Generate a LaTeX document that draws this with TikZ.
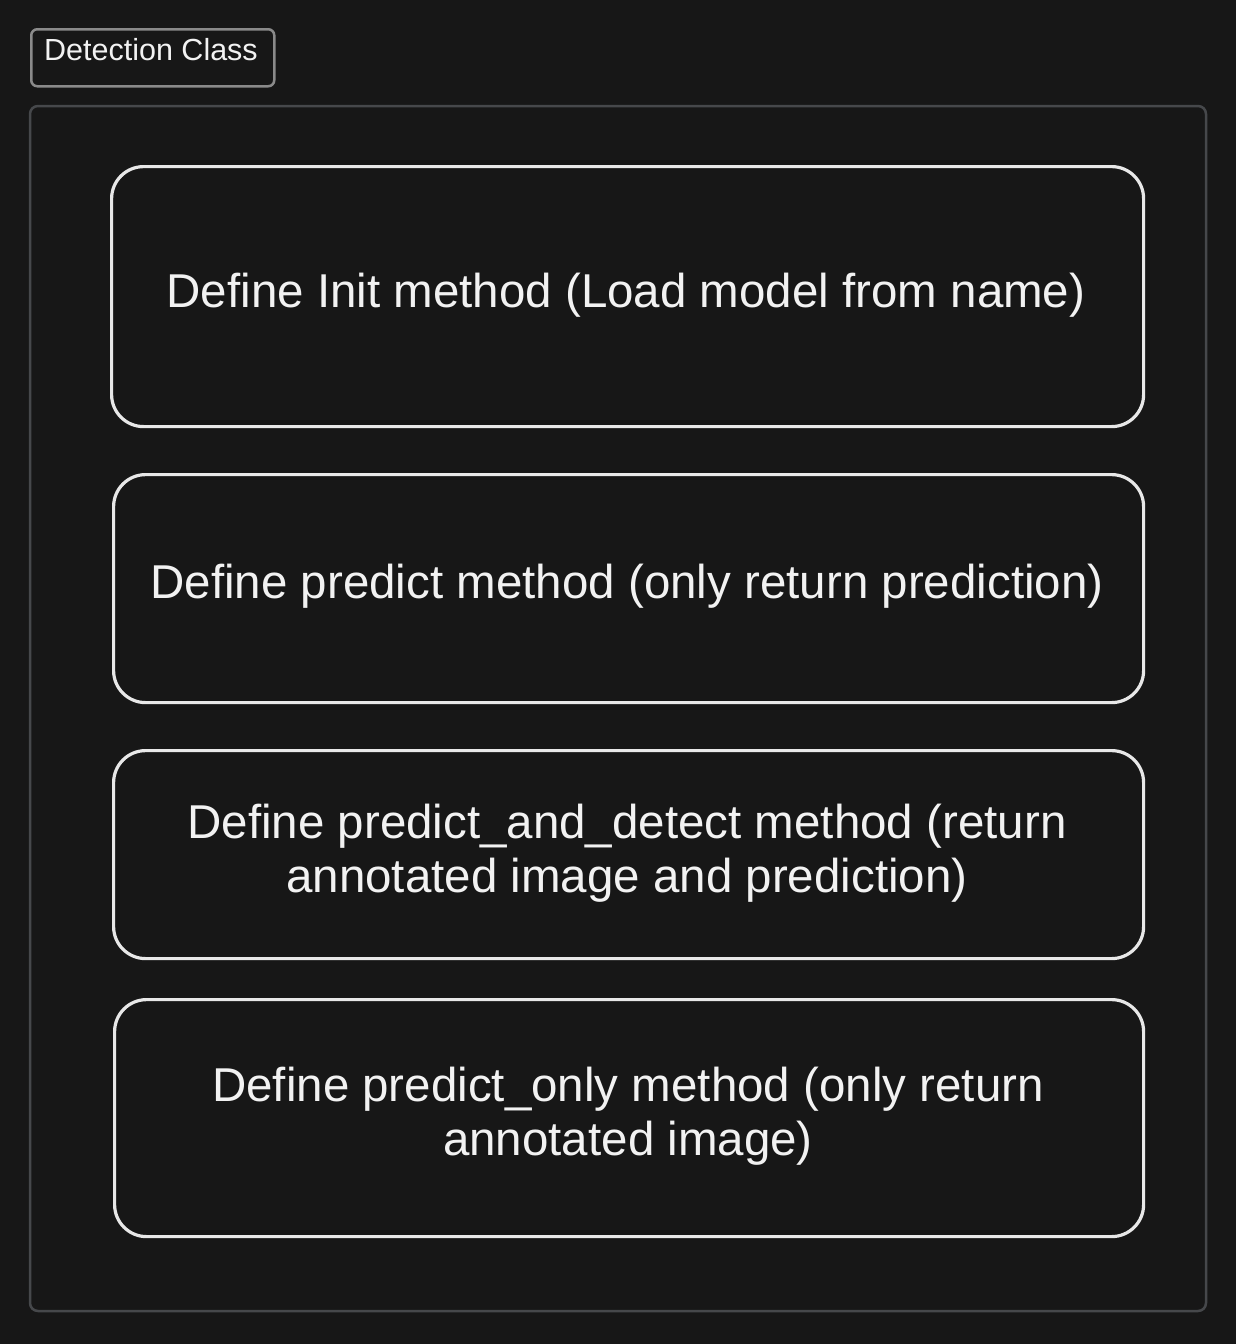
\documentclass[tikz,border=0pt]{standalone}
\usepackage{fontspec}
\setmainfont{Liberation Sans}
\definecolor{bg}{HTML}{171717}
\definecolor{frame}{HTML}{46484B}
\definecolor{lblborder}{HTML}{8A8A8A}
\definecolor{boxline}{HTML}{E8E8E8}
\definecolor{txt}{HTML}{F2F2F2}
\begin{document}
\begin{tikzpicture}[x=1pt,y=-1pt,
  stepbox/.style={draw=boxline, line width=3.2pt, rounded corners=32pt, anchor=north west, inner sep=0pt},
  steptext/.style={text=txt, font=\fontsize{47.5}{54}\selectfont, align=center},
  framebox/.style={draw=frame, line width=2.5pt, rounded corners=8pt},
  labelbox/.style={draw=lblborder, line width=2.5pt, rounded corners=6pt, fill=bg}]
\fill[bg] (0,0) rectangle (1236,1344);
\useasboundingbox (0,0) rectangle (1236,1344);
\draw[framebox] (30,106) rectangle (1206,1311);
\node[labelbox, anchor=north west, minimum width=243pt, minimum height=57pt, inner sep=0pt] (lbl) at (30,28) {};
\node[text=txt, font=\fontsize{30.5}{34}\selectfont] (lbltext) at (151,50) {Detection Class};
\node[stepbox, minimum width=1032pt, minimum height=260pt] (b1) at (110,165) {};
\node[steptext] (t1) at (626,295) {Define Init method (Load model from name)};
\node[stepbox, minimum width=1030pt, minimum height=228pt] (b2) at (112,473) {};
\node[steptext] (t2) at (627,586) {Define predict method (only return prediction)};
\node[stepbox, minimum width=1030pt, minimum height=208pt] (b3) at (112,749) {};
\node[steptext] (t3) at (627,853) {Define predict\_and\_detect method (return\\annotated image and prediction)};
\node[stepbox, minimum width=1029pt, minimum height=237pt] (b4) at (113,998) {};
\node[steptext] (t4) at (628,1116) {Define predict\_only method (only return\\annotated image)};
\end{tikzpicture}
\end{document}
